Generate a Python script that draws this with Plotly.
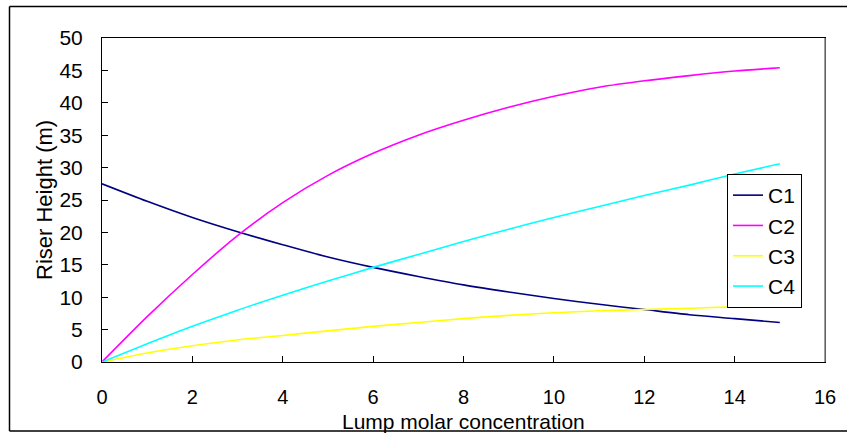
import plotly.graph_objects as go

x_vals = [0, 1, 2, 3, 4, 5, 6, 7, 8, 9, 10, 11, 12, 13, 14, 15]
c1 = [27.5, 24.8, 22.3, 20.1, 18.1, 16.2, 14.6, 13.2, 11.9, 10.8, 9.8, 8.9, 8.1, 7.3, 6.7, 6.1]
c2 = [0.0, 7.0, 13.5, 19.5, 24.6, 28.8, 32.2, 35.0, 37.3, 39.3, 41.0, 42.4, 43.4, 44.2, 44.9, 45.4]
c3 = [0.0, 1.4, 2.5, 3.4, 4.1, 4.8, 5.5, 6.1, 6.7, 7.2, 7.6, 7.9, 8.1, 8.3, 8.5, 8.7]
c4 = [0.0, 2.8, 5.5, 8.0, 10.3, 12.5, 14.6, 16.6, 18.6, 20.5, 22.3, 24.0, 25.7, 27.3, 29.0, 30.6]

series_names = ["C1", "C2", "C3", "C4"]
series_colors = ["#000080", "#FF00FF", "#FFFF00", "#00FFFF"]
x_ticks = [0, 2, 4, 6, 8, 10, 12, 14, 16]
y_ticks = [0, 5, 10, 15, 20, 25, 30, 35, 40, 45, 50]
x_title = "Lump molar concentration"
y_title = "Riser Height (m)"

FONT = "Liberation Sans, Arial, sans-serif"

# plot area in pixels: x 102..825, y 38..362
L, R, T, B = 102, 825, 38, 362
W, H = 847, 433
PW, PH = R - L, B - T


def px(xp):
    return (xp - L) / PW


def py(yp):
    return (B - yp) / PH


fig = go.Figure()
for name, ys, col in zip(series_names, [c1, c2, c3, c4], series_colors):
    fig.add_trace(go.Scatter(
        x=x_vals, y=ys, name=name, mode="lines",
        line=dict(color=col, width=1.6, shape="spline", smoothing=0.8),
    ))

fig.update_layout(
    width=W, height=H,
    margin=dict(l=L, r=W - R, t=T, b=H - B, autoexpand=False),
    paper_bgcolor="white", plot_bgcolor="white",
    font=dict(family=FONT, size=20, color="black"),
    showlegend=True,
    legend=dict(
        x=px(727), y=py(174), xanchor="left", yanchor="top",
        bordercolor="black", borderwidth=1, bgcolor="white",
        font=dict(family=FONT, size=21, color="black"),
        itemwidth=30, tracegroupgap=0,
    ),
    xaxis=dict(
        range=[0, 16], tickvals=x_ticks, ticks="inside", ticklen=6,
        tickcolor="black", showgrid=False, zeroline=False,
        showline=True, linecolor="black", linewidth=1, mirror=True,
        tickfont=dict(family=FONT, size=20),
        ticklabelstandoff=17, automargin=False,
    ),
    yaxis=dict(
        range=[0, 50], tickvals=y_ticks, ticks="inside", ticklen=6,
        tickcolor="black", showgrid=False, zeroline=False,
        showline=True, linecolor="black", linewidth=1, mirror=True,
        tickfont=dict(family=FONT, size=21),
        ticklabelstandoff=14, automargin=False,
    ),
    annotations=[
        dict(text=x_title, xref="paper", yref="paper", x=px(463), y=py(421),
             xanchor="center", yanchor="middle", showarrow=False,
             font=dict(family=FONT, size=21)),
        dict(text=y_title, xref="paper", yref="paper", x=px(44), y=py(200),
             xanchor="center", yanchor="middle", showarrow=False, textangle=-90,
             font=dict(family=FONT, size=22)),
    ],
    shapes=[
        dict(type="line", xref="paper", yref="paper", x0=1, x1=1, y0=0, y1=1,
             line=dict(color="#808080", width=1.5)),
        dict(type="line", xref="paper", yref="paper",
             x0=px(9.5), x1=px(9.5), y0=py(431), y1=py(6.5),
             line=dict(color="black", width=1.5)),
        dict(type="line", xref="paper", yref="paper",
             x0=px(9.5), x1=px(W), y0=py(6.5), y1=py(6.5),
             line=dict(color="black", width=1.5)),
        dict(type="line", xref="paper", yref="paper",
             x0=px(9.5), x1=px(W), y0=py(431), y1=py(431),
             line=dict(color="black", width=1.5)),
    ],
)

fig.write_html(
    "out.html",
    config={"displayModeBar": False},
    post_script="document.body.style.margin='0';document.body.style.overflow='hidden';",
)
